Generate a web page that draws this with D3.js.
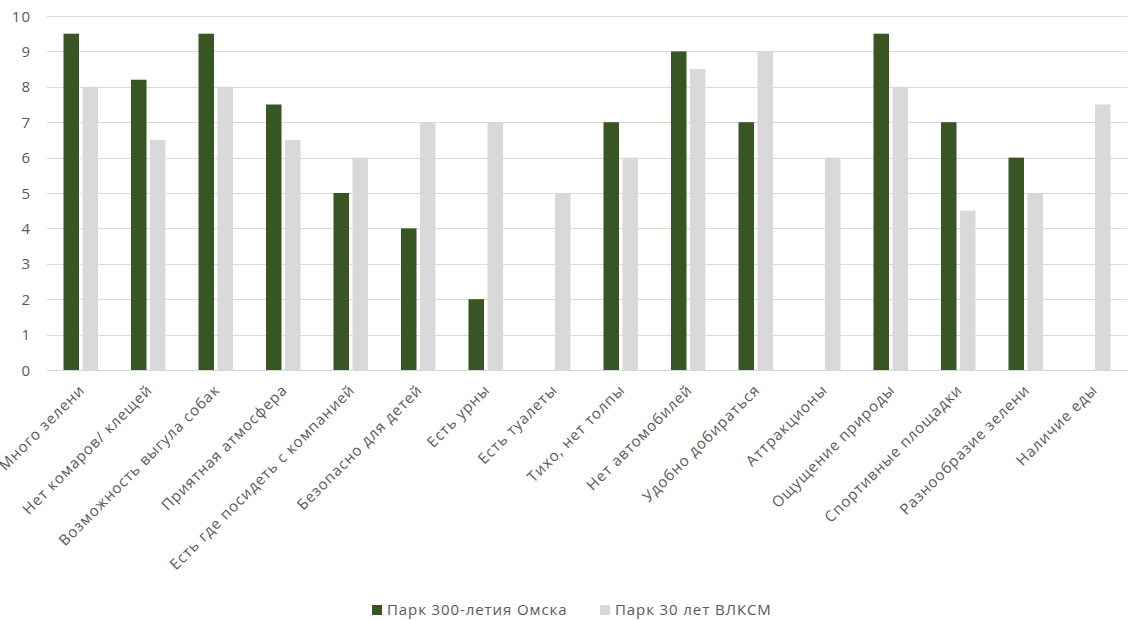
<!DOCTYPE html>
<html><head><meta charset="utf-8">
<script src="https://cdnjs.cloudflare.com/ajax/libs/d3/7.8.5/d3.min.js"></script>
<style>body{margin:0;background:#fff}svg{display:block}text{font-family:"Open Sans",sans-serif}</style>
</head><body><svg id="c" width="1132" height="620"></svg>
<script>
const categories = ["Много зелени","Нет комаров/ клещей","Возможность выгула собак","Приятная атмосфера","Есть где посидеть с компанией","Безопасно для детей","Есть урны","Есть туалеты","Тихо, нет толпы","Нет автомобилей","Удобно добираться","Аттракционы","Ощущение природы","Спортивные площадки","Разнообразие зелени","Наличие еды"];
const seriesNames = ["Парк 300-летия Омска","Парк 30 лет ВЛКСМ"];
const park300 = [9.5,8.2,9.5,7.5,5,4,2,0,7,9,7,0,9.5,7,6,0];
const parkVLKSM = [8,6.5,8,6.5,6,7,7,5,6,8.5,9,6,8,4.5,5,7.5];
const yTicks = [0,1,2,3,4,5,6,7,8,9,10];
const colors = ["#375623","#d9d9d9"];

const svg = d3.select("#c");
const x = d3.scaleBand().domain(categories).range([47,1127]);
const y = d3.scaleLinear().domain([0,10]).range([370,16]);

// gridlines
svg.append("g").selectAll("line").data(yTicks).join("line")
  .attr("x1",47).attr("x2",1127).attr("y1",d=>Math.round(y(d))+0.5).attr("y2",d=>Math.round(y(d))+0.5)
  .attr("stroke",d=>d===0?"#d0d7e0":"#d9d9d9").attr("stroke-width",1);
// y labels
svg.append("g").selectAll("text").data(yTicks).join("text")
  .attr("x",31).attr("y",d=>y(d)+5.5).attr("text-anchor","end")
  .attr("font-size",15).attr("letter-spacing","1px").attr("fill","#595959").text(d=>d);

const series = [park300, parkVLKSM];
const bw = 15.5, gap = 3.5;
series.forEach((vals,si)=>{
  svg.append("g").selectAll("rect").data(categories).join("rect")
    .attr("x",(c)=>x(c)+x.bandwidth()/2 - bw - gap/2 + si*(bw+gap))
    .attr("width",bw)
    .attr("y",(c,i)=>y(vals[i]))
    .attr("height",(c,i)=>y(0)-y(vals[i]))
    .attr("fill",colors[si]);
});

// x labels
svg.append("g").selectAll("text").data(categories).join("text")
  .attr("transform",c=>`translate(${x(c)+x.bandwidth()/2+5},391) rotate(-45)`)
  .attr("text-anchor","end").attr("font-size",15).attr("letter-spacing","0.9px").attr("fill","#595959").text(c=>c);

// legend
const lg = svg.append("g");
const lx = [372,600];
seriesNames.forEach((n,i)=>{
  lg.append("rect").attr("x",lx[i]).attr("y",605).attr("width",10).attr("height",10).attr("fill",colors[i]);
  lg.append("text").attr("x",lx[i]+15).attr("y",615).attr("font-size",15).attr("letter-spacing","0.9px").attr("fill","#595959").text(n);
});
</script></body></html>
